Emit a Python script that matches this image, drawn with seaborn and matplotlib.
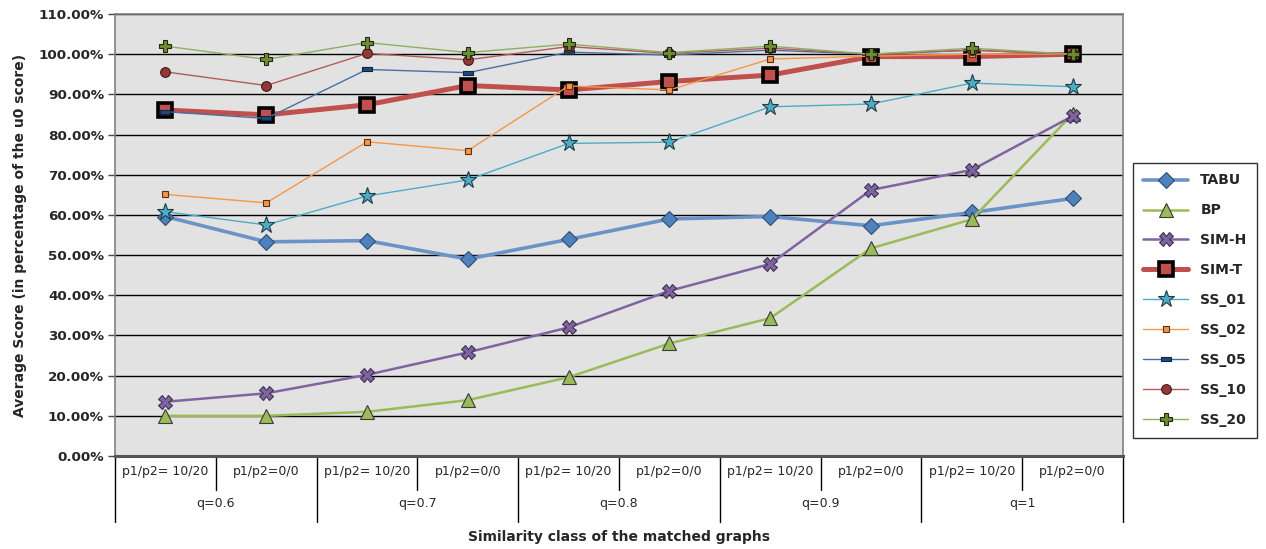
import numpy as np
import pandas as pd
import matplotlib
matplotlib.use("Agg")
import matplotlib.pyplot as plt
import matplotlib.transforms as mtransforms
import seaborn as sns

# Similarity classes (two sub-classes per q value)
sub_labels = ["p1/p2= 10/20", "p1/p2=0/0"] * 5
group_labels = ["q=0.6", "q=0.7", "q=0.8", "q=0.9", "q=1"]

# Average score in % of the u0 score
tabu = [59.6, 53.3, 53.6, 49.0, 53.9, 59.0, 59.6, 57.3, 60.6, 64.1]
bp = [10.0, 10.0, 11.0, 13.9, 19.6, 28.0, 34.3, 51.7, 58.9, 85.1]
sim_h = [13.5, 15.6, 20.2, 25.8, 32.0, 41.1, 47.8, 66.2, 71.2, 84.6]
sim_t = [86.1, 84.9, 87.4, 92.2, 91.1, 93.2, 94.8, 99.4, 99.4, 100.0]
ss_01 = [60.8, 57.5, 64.7, 68.7, 77.8, 78.1, 86.9, 87.6, 92.8, 91.9]
ss_02 = [65.1, 63.0, 78.2, 76.0, 92.1, 91.1, 98.8, 99.5, 100.0, 100.0]
ss_05 = [85.7, 84.0, 96.2, 95.4, 100.5, 99.8, 101.0, 100.0, 101.0, 100.0]
ss_10 = [95.6, 92.2, 100.2, 98.6, 101.9, 100.2, 101.5, 100.0, 101.0, 100.0]
ss_20 = [102.0, 98.7, 102.9, 100.4, 102.5, 100.4, 102.0, 100.0, 101.5, 100.0]

series_names = ["TABU", "BP", "SIM-H", "SIM-T", "SS_01", "SS_02", "SS_05", "SS_10", "SS_20"]
series_values = [tabu, bp, sim_h, sim_t, ss_01, ss_02, ss_05, ss_10, ss_20]

rect = [(-1, -0.5), (1, -0.5), (1, 0.5), (-1, 0.5), (-1, -0.5)]
styles = {
    "TABU":  dict(color="#6b93c8", marker="D", markersize=8.5, markerfacecolor="#4f81bd",
                  markeredgecolor="#2c4d75", linewidth=2.6, markeredgewidth=0.8),
    "BP":    dict(color="#9bbb59", marker="^", markersize=10, markerfacecolor="#9bbb59",
                  markeredgecolor="#3a3a3a", linewidth=1.8, markeredgewidth=0.8),
    "SIM-H": dict(color="#8064a2", marker="X", markersize=9.5, markerfacecolor="#8064a2",
                  markeredgecolor="#3f3151", linewidth=1.8, markeredgewidth=0.8),
    "SIM-T": dict(color="#c0504d", marker="s", markersize=10.5, markerfacecolor="#c0504d",
                  markeredgecolor="#000000", linewidth=3.6, markeredgewidth=2.6),
    "SS_01": dict(color="#4bacc6", marker="*", markersize=12.5, markerfacecolor="#4bacc6",
                  markeredgecolor="#1f3a44", linewidth=1.0, markeredgewidth=0.8),
    "SS_02": dict(color="#f79646", marker="s", markersize=4, markerfacecolor="#f79646",
                  markeredgecolor="#5a3010", linewidth=1.0, markeredgewidth=0.8),
    "SS_05": dict(color="#4a6fa0", marker=rect, markersize=7, markerfacecolor="#1f497d",
                  markeredgecolor="#10253f", linewidth=1.0, markeredgewidth=0.8),
    "SS_10": dict(color="#b35c5a", marker="o", markersize=7, markerfacecolor="#953735",
                  markeredgecolor="#3f1a19", linewidth=1.0, markeredgewidth=0.8),
    "SS_20": dict(color="#8fae62", marker="P", markersize=9, markerfacecolor="#6f8b34",
                  markeredgecolor="#1e2a0c", linewidth=1.0, markeredgewidth=0.8),
}

x_pos = np.arange(len(sub_labels))
df = pd.DataFrame({name: vals for name, vals in zip(series_names, series_values)})
df["pos"] = x_pos

sns.set_theme(style="white")
plt.rcParams["font.family"] = ["DejaVu Sans"]

fig = plt.figure(figsize=(12.66, 5.49), dpi=100)
ax = fig.add_axes([115 / 1266, 1 - 456 / 549, (1123 - 115) / 1266, (456 - 14) / 549])
ax.set_facecolor("#e2e2e2")

for name in series_names:
    sns.lineplot(data=df, x="pos", y=name, ax=ax, label=name, **styles[name])

ax.set_xlim(-0.5, len(sub_labels) - 0.5)
ax.set_ylim(0, 110)
ax.set_yticks(np.arange(0, 111, 10))
ax.set_yticklabels([f"{v:.2f}%" for v in np.arange(0, 111, 10)], fontsize=9.7, fontweight="bold")
ax.yaxis.grid(True, color="#000000", linewidth=1.0)
ax.set_axisbelow(True)
ax.tick_params(axis="y", which="both", left=True, length=5, width=1, color="#444444", pad=3)
ax.set_xticks([])
ax.set_xlabel("")
ax.set_ylabel("Average Score (in percentage of the u0 score)", fontsize=10,
              fontweight="bold", labelpad=8)
for side in ["left", "right", "top"]:
    ax.spines[side].set_color("#7f7f7f")
    ax.spines[side].set_linewidth(1.2)
ax.spines["bottom"].set_color("#555555")
ax.spines["bottom"].set_linewidth(2.2)

# Two-level category table below the plot
trans = mtransforms.blended_transform_factory(ax.transData, ax.transAxes)
row1 = -34 / 442
row2 = -66 / 442
for i in range(len(sub_labels) + 1):
    b = i - 0.5
    y_end = row2 if i % 2 == 0 else row1
    ax.plot([b, b], [0, y_end], transform=trans, color="#000000", linewidth=1.0, clip_on=False)
for i, lab in enumerate(sub_labels):
    ax.text(i, -15 / 442, lab, transform=trans, ha="center", va="center", fontsize=9)
for g, lab in enumerate(group_labels):
    ax.text(2 * g + 0.5, -47 / 442, lab, transform=trans, ha="center", va="center", fontsize=9)
ax.text(0.5, -81 / 442, "Similarity class of the matched graphs", transform=ax.transAxes,
        ha="center", va="center", fontsize=10, fontweight="bold")

ax.get_legend().remove()
handles, labels = ax.get_legend_handles_labels()
leg = fig.legend(handles, labels, loc="upper left",
                 bbox_to_anchor=(1133 / 1266, 1 - 163 / 549), borderaxespad=0.0,
                 frameon=True, fancybox=False, edgecolor="#000000", facecolor="#ffffff",
                 prop={"weight": "bold", "size": 10}, handlelength=3.2,
                 labelspacing=1.15, borderpad=0.75, handletextpad=0.9)
leg.get_frame().set_linewidth(1.0)

fig.savefig("out.png", dpi=100)
